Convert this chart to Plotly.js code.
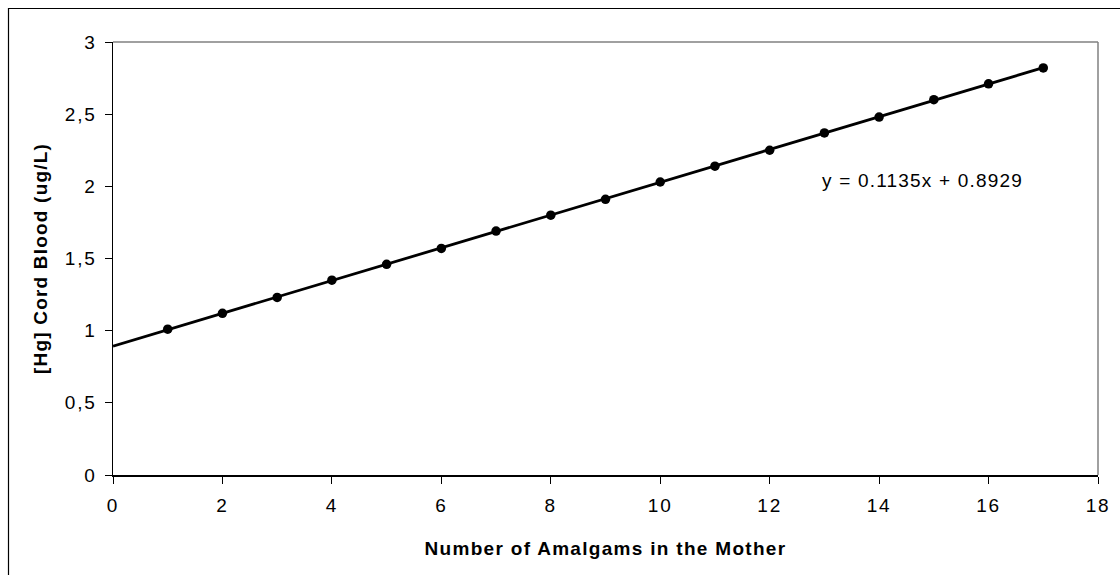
<!DOCTYPE html>
<html>
<head>
<meta charset="utf-8">
<script src="https://cdn.plot.ly/plotly-3.0.1.min.js"></script>
<style>
html,body{margin:0;padding:0;background:#fff;}
#chart{width:1120px;height:575px;}
#chart .xtick text, #chart .ytick text{letter-spacing:1.8px;}
#chart .g-xtitle text{letter-spacing:1.3px;}
#chart .g-ytitle text{letter-spacing:1.2px;}
#chart .annotation-text{letter-spacing:1.2px;}
</style>
</head>
<body>
<div id="chart"></div>
<script>
// Data
const amalgams = [1,2,3,4,5,6,7,8,9,10,11,12,13,14,15,16,17];
const hgCordBlood = [1.01,1.12,1.23,1.35,1.46,1.57,1.69,1.80,1.91,2.03,2.14,2.25,2.37,2.48,2.60,2.71,2.82];
const trendX = [0, 17];
const trendY = [0.8929, 2.8224];
const equationText = 'y = 0.1135x + 0.8929';
const xTicks = [0,2,4,6,8,10,12,14,16,18];
const yTicks = [0,0.5,1,1.5,2,2.5,3];

const font = 'Liberation Sans, Arial, sans-serif';
const fs = 19;

const traces = [
  {x: trendX, y: trendY, mode: 'lines', line: {color: '#000', width: 2.8}, hoverinfo: 'skip', showlegend: false},
  {x: amalgams, y: hgCordBlood, mode: 'markers', marker: {color: '#000', size: 9.5}, showlegend: false}
];

const W = 1120, H = 575, L = 113, R = 22, T = 42, B = 100;
const pw = W - L - R, ph = H - T - B;
const px = v => (v - L) / pw;
const py = v => (H - B - v) / ph;

const layout = {
  width: W, height: H,
  margin: {l: L, r: R, t: T, b: B, pad: 0},
  paper_bgcolor: '#fff', plot_bgcolor: '#fff',
  separators: ',.',
  font: {family: font, size: fs, color: '#000'},
  showlegend: false,
  xaxis: {
    range: [0, 18], tickvals: xTicks, ticks: 'outside', ticklen: 7, tickcolor: '#000', tickwidth: 1,
    ticklabelstandoff: 6,
    showgrid: false, zeroline: false, showline: true, linecolor: '#000', linewidth: 1.5,
    tickfont: {family: font, size: fs, color: '#000'},
    title: {text: 'Number of Amalgams in the Mother', font: {family: font, size: fs, color: '#000', weight: 'bold'}, standoff: 26}
  },
  yaxis: {
    range: [0, 3], tickvals: yTicks, ticks: 'outside', ticklen: 7, tickcolor: '#000', tickwidth: 1,
    ticklabelstandoff: 4,
    showgrid: false, zeroline: false, showline: true, linecolor: '#000', linewidth: 1.5,
    tickfont: {family: font, size: fs, color: '#000'},
    title: {text: '[Hg] Cord Blood (ug/L)', font: {family: font, size: fs, color: '#000', weight: 'bold'}, standoff: 17}
  },
  shapes: [
    {type: 'line', xref: 'paper', yref: 'paper', x0: 0, x1: 1, y0: 1, y1: 1, line: {color: '#808080', width: 1.5}},
    {type: 'line', xref: 'paper', yref: 'paper', x0: 1, x1: 1, y0: 0, y1: 1, line: {color: '#808080', width: 1.5}},
    {type: 'rect', xref: 'paper', yref: 'paper', x0: px(8.5), x1: px(1130), y0: py(585), y1: py(8.5), line: {color: '#000', width: 1.2}, layer: 'below'}
  ],
  annotations: [
    {x: 13.14, y: 2.04, xref: 'x', yref: 'y', text: equationText, showarrow: false, xanchor: 'left', yanchor: 'middle', font: {family: font, size: fs, color: '#000'}}
  ]
};

Plotly.newPlot('chart', traces, layout, {displayModeBar: false, staticPlot: true});
</script>
</body>
</html>
